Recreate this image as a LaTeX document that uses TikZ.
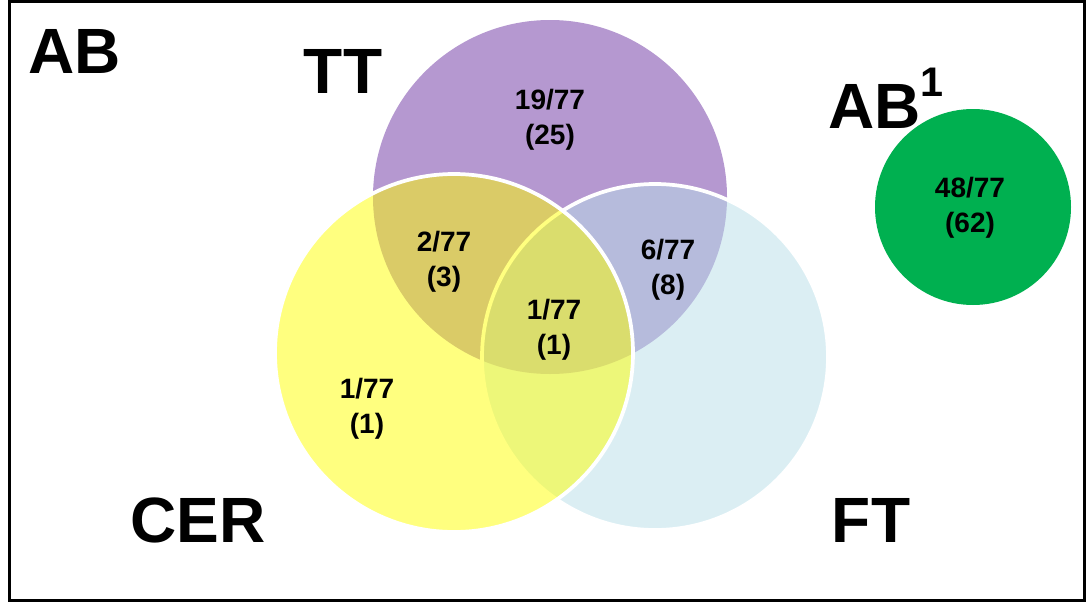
\documentclass[tikz,border=0pt]{standalone}
\usepackage{fontspec}
\setmainfont{Liberation Sans}
\definecolor{ttpurple}{RGB}{181,152,208}
\definecolor{ceryellow}{RGB}{255,255,0}
\definecolor{ftblue}{RGB}{183,222,232}
\definecolor{abgreen}{RGB}{0,176,80}
\begin{document}
\begin{tikzpicture}[x=0.75pt,y=-0.75pt,
  setlabel/.style={font=\fontsize{48}{56}\selectfont\bfseries, inner sep=0pt, anchor=base},
  count/.style={font=\fontsize{21}{26}\selectfont\bfseries, align=center, inner sep=0pt},
  disc/.style={circle, inner sep=0pt},
  clearset/.style={disc, fill opacity=0.5, draw=white, line width=2.8pt}]
  \useasboundingbox (0,0) rectangle (1086,603);
  % frame
  \draw[line width=2.25pt] (9,1.5) rectangle (1084.5,600);
  % sets
  \node[disc, minimum size=265.5pt, fill=ttpurple] (tt) at (550,197) {};
  \node[clearset, minimum size=259.5pt, fill=ftblue] (ft) at (655,357) {};
  \node[clearset, minimum size=268.5pt, fill=ceryellow] (cer) at (454,353) {};
  \node[disc, minimum size=147pt, fill=abgreen] (ab1) at (973,207) {};
  % set names
  \node[setlabel] (labAB) at (75,73) {AB};
  \node[setlabel] (labTT) at (343,93) {TT};
  \node[setlabel] (labCER) at (198,542) {CER};
  \node[setlabel] (labFT) at (871,542) {FT};
  \node[setlabel, anchor=base west] (labAB1) at (828,128)
    {AB\raisebox{24pt}{\fontsize{31}{36}\selectfont 1}};
  % counts
  \node[count] (cTT) at (550,120) {19/77\\(25)};
  \node[count] (cTTCER) at (444,262) {2/77\\(3)};
  \node[count] (cAll) at (554,330) {1/77\\(1)};
  \node[count] (cTTFT) at (668,270) {6/77\\(8)};
  \node[count] (cCER) at (367,409) {1/77\\(1)};
  \node[count] (cAB1) at (970,208) {48/77\\(62)};
\end{tikzpicture}
\end{document}
